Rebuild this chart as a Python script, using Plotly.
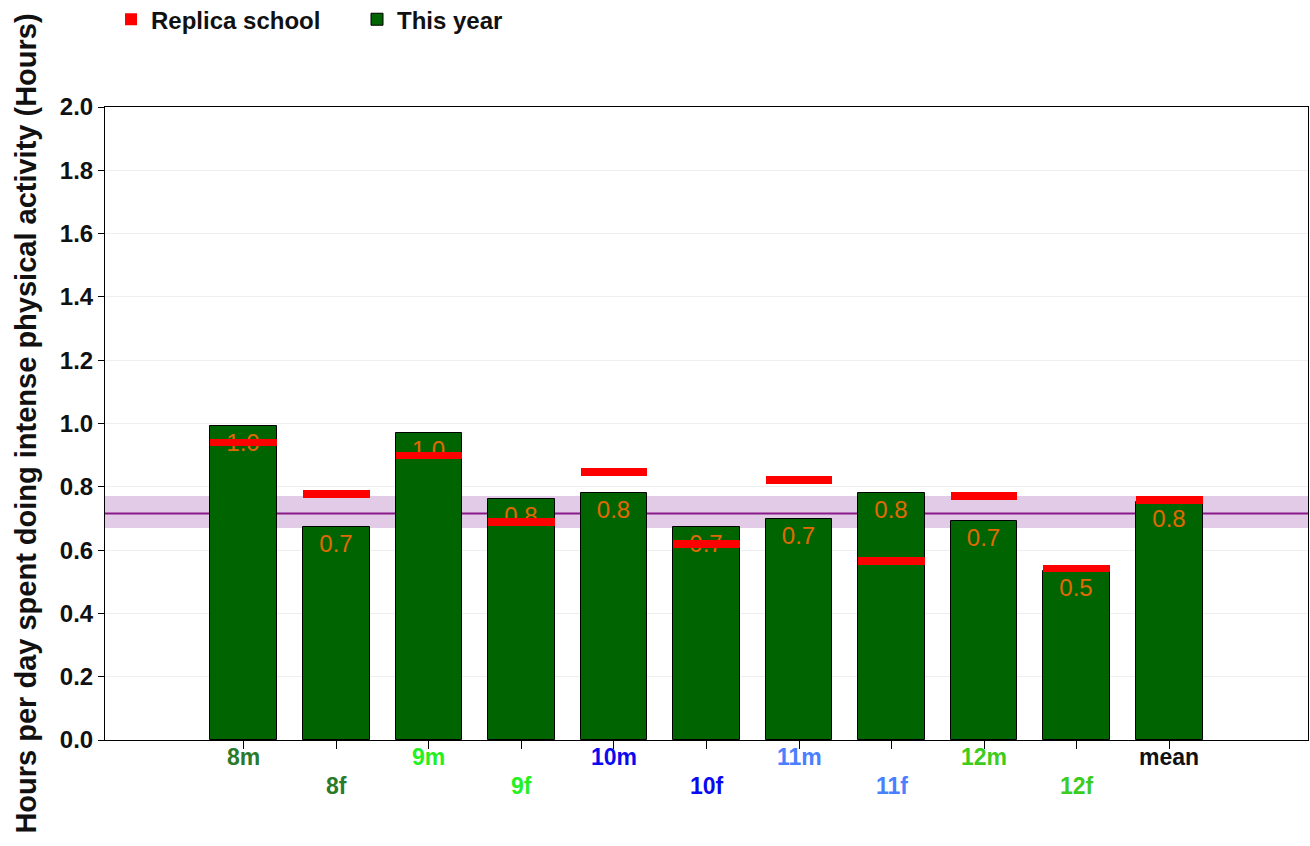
import plotly.graph_objects as go

# ── Data ────────────────────────────────────────────────────────
categories = ["8m", "8f", "9m", "9f", "10m", "10f", "11m", "11f", "12m", "12f", "mean"]
this_year = [0.992, 0.673, 0.970, 0.761, 0.780, 0.673, 0.698, 0.780, 0.692, 0.535, 0.752]
replica = [0.940, 0.777, 0.899, 0.689, 0.847, 0.618, 0.822, 0.567, 0.771, 0.542, 0.757]
label_colors = ["#2a7a2a", "#2a7a2a", "#22f022", "#22f022", "#0a0af0", "#0a0af0",
                "#4a80ff", "#4a80ff", "#3ccc1e", "#3ccc1e", "#111111"]
ref_mean = 0.716
ref_band = (0.670, 0.771)
y_ticks = [0.0, 0.2, 0.4, 0.6, 0.8, 1.0, 1.2, 1.4, 1.6, 1.8, 2.0]

MARKER_H = 0.025
FONT = "Liberation Sans, Arial, sans-serif"

fig = go.Figure()
fig.add_trace(go.Bar(
    x=categories,
    y=this_year,
    name="This year",
    width=0.72,
    marker=dict(color="#006400", line=dict(color="#000000", width=1)),
    texttemplate="%{y:.1f}",
    textposition="inside",
    insidetextanchor="end",
    textangle=0,
    textfont=dict(color="#e06a00", size=24, family=FONT),
    legendrank=2,
))
fig.add_trace(go.Bar(
    x=categories,
    y=[MARKER_H] * len(replica),
    base=[v - MARKER_H / 2 for v in replica],
    name="Replica school",
    width=0.72,
    marker=dict(color="#ff0000", line=dict(color="#ff0000", width=0)),
    legendrank=1,
))

fig.add_shape(type="rect", xref="paper", yref="y", x0=0, x1=1,
              y0=ref_band[0], y1=ref_band[1],
              fillcolor="rgba(190,140,200,0.45)", line=dict(width=0), layer="between")
fig.add_shape(type="line", xref="paper", yref="y", x0=0, x1=1,
              y0=ref_mean, y1=ref_mean,
              line=dict(color="#8a1a8a", width=2), layer="between")

# alternating two-row category labels
for i, (cat, col) in enumerate(zip(categories, label_colors)):
    fig.add_annotation(
        x=cat, y=0, xref="x", yref="paper",
        text=f"<b>{cat}</b>", showarrow=False,
        yanchor="middle", yshift=-17 if i % 2 == 0 else -46,
        font=dict(color=col, size=23, family=FONT),
    )

fig.update_layout(
    width=1310,
    height=846,
    margin=dict(l=105, r=2, t=107, b=106, autoexpand=False),
    plot_bgcolor="white",
    paper_bgcolor="white",
    barmode="overlay",
    bargap=0,
    font=dict(family=FONT, color="#111111"),
    legend=dict(
        orientation="h", x=0.005, xanchor="left", y=1.138, yanchor="middle",
        font=dict(size=24, family=FONT, weight="bold"),
        entrywidth=201, entrywidthmode="pixels",
    ),
    xaxis=dict(
        type="category",
        range=[-1.5, 11.5],
        showticklabels=False,
        ticks="outside", ticklen=8, tickcolor="#000000",
        showline=True, linecolor="#000000", linewidth=1, mirror=True,
        showgrid=False, automargin=False,
    ),
    yaxis=dict(
        range=[0, 2.0],
        tickvals=y_ticks,
        tickformat=".1f",
        ticks="outside", ticklen=6, tickcolor="#000000",
        tickfont=dict(size=24, weight="bold"),
        showline=True, linecolor="#000000", linewidth=1, mirror=True,
        showgrid=True, gridcolor="#eeeeee", gridwidth=1,
        zeroline=False, automargin=False,
        title=dict(
            text="Hours per day spent doing intense physical activity (Hours)",
            font=dict(size=29, weight="bold"),
            standoff=14,
        ),
    ),
)

# drop the default page margin so the figure fills the window exactly
fig.write_html(
    "out.html",
    config={"displayModeBar": False},
    post_script="document.body.style.margin='0';",
)
